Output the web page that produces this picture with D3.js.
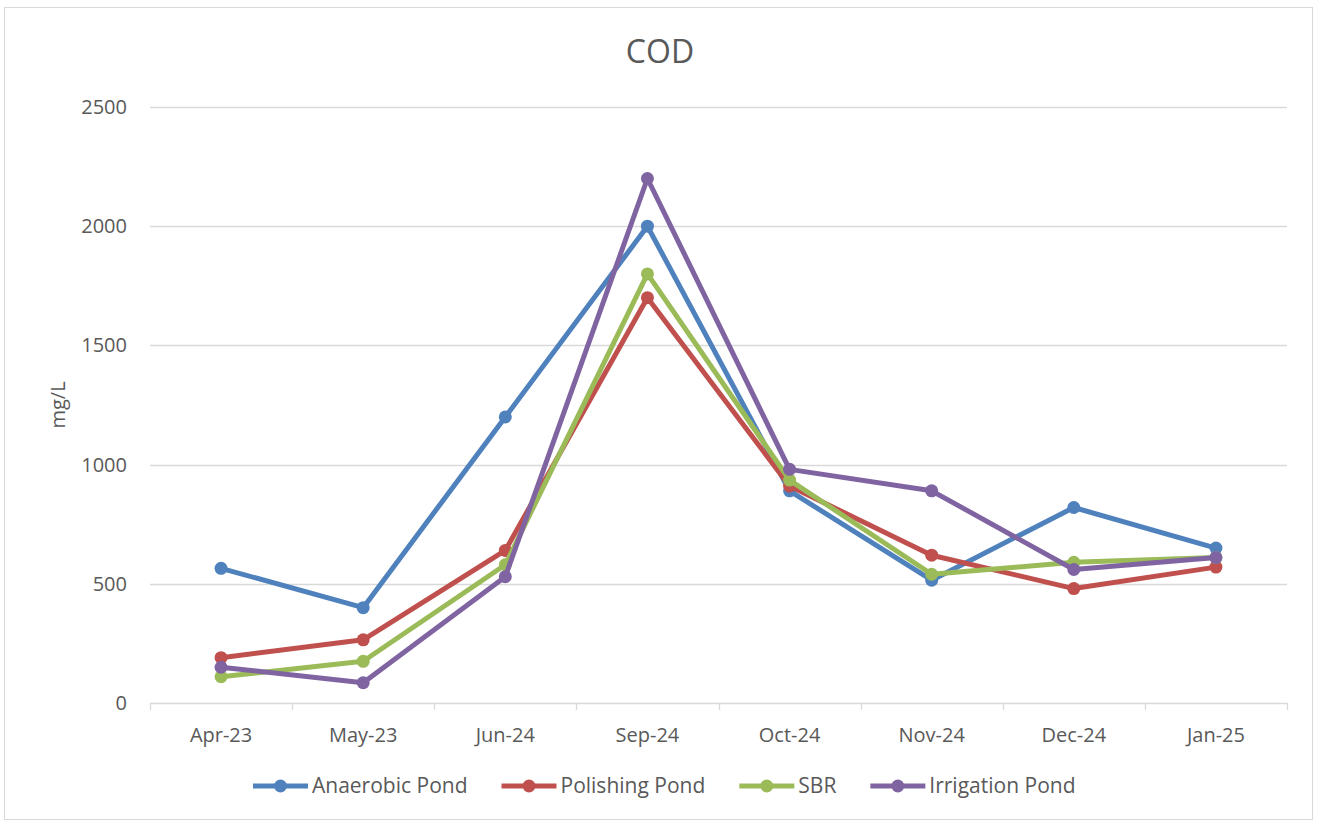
<!DOCTYPE html>
<html>
<head>
<meta charset="utf-8">
<script src="https://cdn.jsdelivr.net/npm/d3@7"></script>
<style>
  body { margin: 0; background: #fff; }
  text { font-family: "Open Sans", sans-serif; fill: #595959; }
</style>
</head>
<body>
<script>
var months = ['Apr-23', 'May-23', 'Jun-24', 'Sep-24', 'Oct-24', 'Nov-24', 'Dec-24', 'Jan-25'];
var anaerobic = [565, 400, 1200, 2000, 890, 515, 820, 650];
var polishing = [190, 265, 640, 1700, 910, 620, 480, 570];
var sbr = [110, 175, 580, 1800, 935, 540, 590, 610];
var irrigation = [150, 85, 530, 2200, 980, 890, 560, 610];
var yTicks = [0, 500, 1000, 1500, 2000, 2500];

var series = [
  { name: 'Anaerobic Pond', values: anaerobic, color: '#4F81BD' },
  { name: 'Polishing Pond', values: polishing, color: '#C0504D' },
  { name: 'SBR', values: sbr, color: '#9BBB59' },
  { name: 'Irrigation Pond', values: irrigation, color: '#8064A2' }
];

var width = 1318;
var height = 822;
var margin = { left: 150, right: 31, top: 107, bottom: 119 };

var svg = d3.select('body')
  .append('svg')
  .attr('width', width)
  .attr('height', height);

// chart frame
svg.append('rect')
  .attr('x', 4.5)
  .attr('y', 7.5)
  .attr('width', 1308)
  .attr('height', 812)
  .attr('fill', '#fff')
  .attr('stroke', '#d9d9d9');

var xScale = d3.scaleBand()
  .domain(months)
  .range([margin.left, width - margin.right]);

var yScale = d3.scaleLinear()
  .domain([0, 2500])
  .range([height - margin.bottom, margin.top]);

// gridlines
svg.append('g')
  .selectAll('line')
  .data(yTicks.slice(1))
  .enter()
  .append('line')
  .attr('x1', margin.left)
  .attr('x2', width - margin.right)
  .attr('y1', function(d) { return Math.round(yScale(d)) + 0.5; })
  .attr('y2', function(d) { return Math.round(yScale(d)) + 0.5; })
  .attr('stroke', '#d9d9d9')
  .attr('stroke-width', 1.3);

// y labels
svg.append('g')
  .selectAll('text')
  .data(yTicks)
  .enter()
  .append('text')
  .attr('x', 127)
  .attr('y', function(d) { return yScale(d) + 7; })
  .attr('text-anchor', 'end')
  .style('font-size', '20px')
  .text(function(d) { return d; });

// x axis
var xAxis = d3.axisBottom(xScale).tickSize(0).tickPadding(25);
var gx = svg.append('g')
  .attr('transform', 'translate(0,' + (height - margin.bottom) + ')')
  .call(xAxis);
gx.select('.domain').attr('stroke', '#d9d9d9').attr('stroke-width', 1.3);
gx.selectAll('text').style('font-size', '20px').style('font-family', '"Open Sans", sans-serif').attr('fill', '#595959');

var bounds = months.map(function(m) { return xScale(m); }).concat([width - margin.right]);
svg.append('g')
  .selectAll('line')
  .data(bounds)
  .enter()
  .append('line')
  .attr('x1', function(d) { return Math.round(d) + 0.5; })
  .attr('x2', function(d) { return Math.round(d) + 0.5; })
  .attr('y1', height - margin.bottom)
  .attr('y2', height - margin.bottom + 7)
  .attr('stroke', '#d9d9d9')
  .attr('stroke-width', 1.3);

var line = d3.line()
  .x(function(d, i) { return xScale(months[i]) + xScale.bandwidth() / 2; })
  .y(function(d) { return yScale(d); });

series.forEach(function(s) {
  svg.append('path')
    .datum(s.values)
    .attr('d', line)
    .attr('fill', 'none')
    .attr('stroke', s.color)
    .attr('stroke-width', 5)
    .attr('stroke-linejoin', 'round');

  svg.append('g')
    .selectAll('circle')
    .data(s.values)
    .enter()
    .append('circle')
    .attr('cx', function(d, i) { return xScale(months[i]) + xScale.bandwidth() / 2; })
    .attr('cy', function(d) { return yScale(d); })
    .attr('r', 6.5)
    .attr('fill', s.color);
});

// title
svg.append('text')
  .attr('x', 660)
  .attr('y', 63)
  .attr('text-anchor', 'middle')
  .style('font-size', '32px')
  .text('COD');

// y axis title
svg.append('text')
  .attr('transform', 'translate(65,405) rotate(-90)')
  .attr('text-anchor', 'middle')
  .style('font-size', '20px')
  .text('mg/L');

// legend
var legend = svg.append('g');
var lx = 253;
series.forEach(function(s) {
  var item = legend.append('g').attr('transform', 'translate(' + lx + ',786)');
  item.append('line')
    .attr('x1', 0).attr('x2', 55)
    .attr('stroke', s.color)
    .attr('stroke-width', 5);
  item.append('circle')
    .attr('cx', 27.5)
    .attr('r', 6.5)
    .attr('fill', s.color);
  var t = item.append('text')
    .attr('x', 59)
    .attr('y', 7)
    .style('font-size', '21px')
    .text(s.name);
  lx += 59 + t.node().getComputedTextLength() + 34;
});
</script>
</body>
</html>
